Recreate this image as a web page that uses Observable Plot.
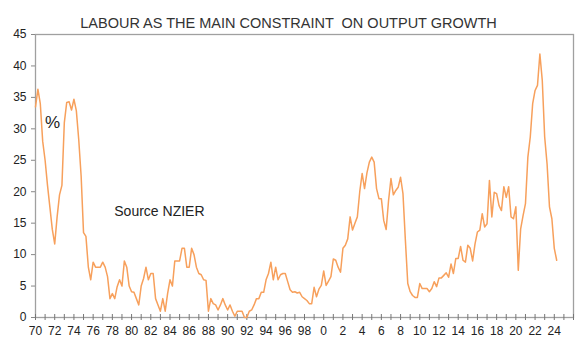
<!DOCTYPE html>
<html><head><meta charset="utf-8">
<script src="https://cdn.jsdelivr.net/npm/d3@7"></script>
<script src="https://cdn.jsdelivr.net/npm/@observablehq/plot@0.6"></script>
<style>body{margin:0;background:#fff} #chart svg{display:block}</style>
</head><body><div id="chart"></div>
<script>
const title = "LABOUR AS THE MAIN CONSTRAINT  ON OUTPUT GROWTH";
const startYear = 1970;
// quarterly values, 1970 Q1 onward (% of firms citing labour as main constraint)
const values1970s = [33.5,36.3,34,28,25,21,17.5,14,11.7,16,19.5,21,31,34.2,34.3,33,34.7,32.9,28.3,22.5,13.5,12.9,8,6,8.8,8,8,8,8.8,8,6.5,3,3.8,3,4.9,6,5,9,8,5];
const values1980s = [4.1,4,3,2,5,6.2,8,6,7,7,3,2,1,3,1,3.8,6,5,9,9,9,11,11,8,8,11,10,8,7,6.8,6,5.9,1,3,2.2,2,1.2,2,3,2];
const values1990s = [1.2,2,1,0.2,1,1,1,0,0,1,1.2,2,3,3,4,4,6,7,8.8,6,8,6,6.8,7,7,5.7,4.4,4,4.1,3.9,4,3.3,3,2.7,2.2,2.2,4.8,3.3,4.5,5.1];
const values2000s = [7.4,5.1,5.8,6.5,9.3,9.1,8,7.2,11,11.5,12.5,16,13.9,15,16,20,22.9,20.5,23,24.7,25.5,24.7,20.5,18.9,18.9,15.4,14,18.6,22.1,19.5,20.2,20.7,22.3,19.7,12.3,5.4,4.1,3.5,3.2,3.2];
const values2010s = [5.4,4.6,4.6,4.6,4.1,4.6,5.7,4.9,6.3,6.3,6.7,7.1,6.4,8.5,7,9.4,9.4,11.3,9.1,8.8,11.5,11,9,11.7,13.6,13.9,16.5,14.4,14.9,21.8,16,19.9,19.7,17.8,17,20.8,19.1,20.8,16,15.7];
const values2020s = [17.6,7.5,14.1,16.2,18.1,25.5,28.7,34,36.1,36.9,41.9,37.7,28.7,24.4,17.6,15.7,11,9.1];
const yTicks = [0,5,10,15,20,25,30,35,40,45];
const xTickYears = d3.range(1970, 2027);
const xLabelYears = d3.range(1970, 2025, 2);
const notes = [
  {year: 1971.0, value: 31, label: "%", size: 17, weight: "bold"},
  {year: 1978.2, value: 16.8, label: "Source NZIER", size: 14, weight: "normal"}
];

const values = [...values1970s, ...values1980s, ...values1990s, ...values2000s, ...values2010s, ...values2020s];
const data = values.map((v, i) => ({year: startYear + i / 4, value: v}));

const chart = Plot.plot({
  width: 581, height: 346,
  marginLeft: 35, marginRight: 8, marginTop: 34, marginBottom: 29,
  x: {domain: [1970, 2026]},
  y: {domain: [0, 45]},
  style: {fontFamily: "'Liberation Sans', Arial, sans-serif", fontSize: "12px", color: "#222", background: "#fff"},
  marks: [
    Plot.frame({stroke: "#a0a0a0", strokeWidth: 1.3}),
    Plot.axisY({ticks: yTicks, tickSize: 4, tickPadding: 5, label: null, stroke: "#888", fontSize: 12}),
    Plot.axisX({ticks: xTickYears, tickSize: 6, dy: -3, tickFormat: () => "", label: null, stroke: "#777"}),
    Plot.axisX({ticks: xLabelYears, tickSize: 0, tickPadding: 9, tickFormat: d => String(d % 100), label: null, fontSize: 12}),
    Plot.line(data, {x: "year", y: "value", stroke: "#f7a05c", strokeWidth: 1.5}),
    Plot.text(notes, {x: "year", y: "value", text: "label", fontSize: d => d.size, fontWeight: d => d.weight, textAnchor: "start", fill: "#222"}),
    Plot.text([title], {frameAnchor: "top", dy: -17, dx: -16, fontSize: 14.5, fill: "#333"})
  ]
});
document.getElementById("chart").append(chart);
</script>
</body></html>
